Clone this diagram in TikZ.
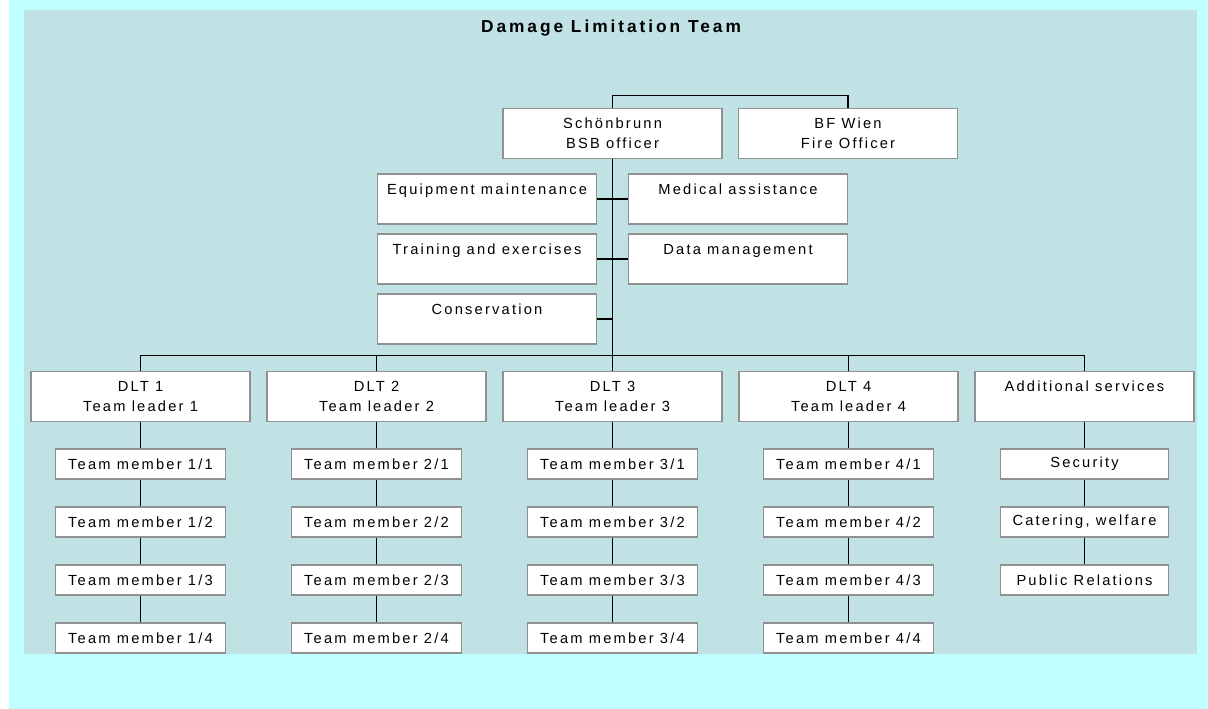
\documentclass[tikz,border=0pt]{standalone}
\usepackage{fontspec}
\setmainfont{Liberation Sans}
\newfontfamily\boxfont{Liberation Sans}[LetterSpace=15]
\newfontfamily\titlefont{Liberation Sans}[LetterSpace=17]
\definecolor{outercyan}{HTML}{BFFFFF}
\definecolor{innerpanel}{HTML}{C0E2E4}
\definecolor{boxgray}{HTML}{909090}
\begin{document}
\begin{tikzpicture}[x=0.75pt,y=-0.75pt,
  box/.style={draw=boxgray, line width=1.1pt, fill=white, inner sep=0pt,
    align=center, font=\boxfont\fontsize{11}{15}\selectfont},
  bigbox/.style={box, minimum width=164.25pt, minimum height=37.5pt},
  tmbox/.style={box, minimum width=127.5pt, minimum height=22.5pt},
  addbox/.style={box, minimum width=126pt, minimum height=22.5pt},
  conn/.style={draw=black, line width=1.1pt}]
\useasboundingbox (0,0) rectangle (1208,709);
\fill[white] (0,0) rectangle (1208,709);
\fill[outercyan] (9,0) rectangle (1208,709);
\fill[innerpanel] (24,10) rectangle (1197,654);

\node[font=\titlefont\bfseries\fontsize{13}{15}\selectfont, anchor=base] (title) at (611,33) {Damage Limitation Team};

% top level
\node[bigbox] (sb) at (612.5,133.5) {Schönbrunn\\BSB officer};
\node[bigbox] (bf) at (848,133.5) {BF Wien\\Fire Officer};

% staff functions
\node[bigbox] (em) at (487,199) {Equipment maintenance\\\phantom{X}};
\node[bigbox] (tr) at (487,259) {Training and exercises\\\phantom{X}};
\node[bigbox] (cons) at (487,319) {Conservation\\\phantom{X}};
\node[bigbox] (ma) at (738,199) {Medical assistance\\\phantom{X}};
\node[bigbox] (dm) at (738,259) {Data management\\\phantom{X}};

% DLT leaders
\node[bigbox] (d1) at (140.5,396.5) {DLT 1\\Team leader 1};
\node[bigbox] (d2) at (376.5,396.5) {DLT 2\\Team leader 2};
\node[bigbox] (d3) at (612.5,396.5) {DLT 3\\Team leader 3};
\node[bigbox] (d4) at (848.5,396.5) {DLT 4\\Team leader 4};
\node[bigbox] (ad) at (1084.5,396.5) {Additional services\\\phantom{X}};

% team members
\foreach \c/\x in {1/140.5,2/376.5,3/612.5,4/848.5}{
  \foreach \r/\y in {1/464,2/522,3/580,4/638}{
    \node[tmbox] (t\c\r) at (\x,\y) {Team member \c/\r};
  }
}
\node[addbox] (sec) at (1084.5,464) {Security};
\node[addbox] (cat) at (1084.5,522) {Catering, welfare};
\node[addbox] (pr) at (1084.5,580) {Public Relations};

% connectors
\draw[conn] (sb.north) -- ++(0,-12) -| (bf.north);
\draw[conn] (sb.south) -- (d3.north);
\draw[conn] (em.east) -- (ma.west);
\draw[conn] (tr.east) -- (dm.west);
\draw[conn] (cons.east) -- (cons.east -| sb.south);
\draw[conn] (d1.north) -- ++(0,-15) -| (ad.north);
\draw[conn] (d2.north) -- ++(0,-15);
\draw[conn] (d4.north) -- ++(0,-15);
\foreach \c in {1,2,3,4}{
  \draw[conn] (d\c) -- (t\c1) -- (t\c2) -- (t\c3) -- (t\c4);
}
\draw[conn] (ad) -- (sec) -- (cat) -- (pr);
\end{tikzpicture}
\end{document}
